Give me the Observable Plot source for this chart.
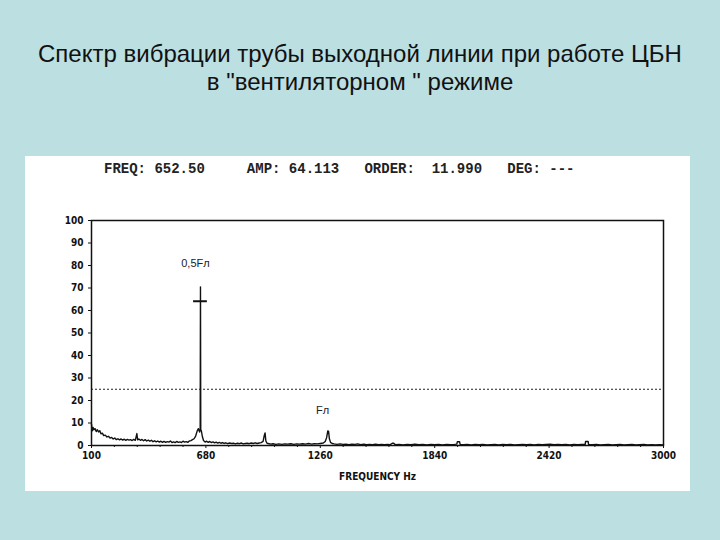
<!DOCTYPE html>
<html><head><meta charset="utf-8">
<script src="https://cdn.jsdelivr.net/npm/d3@7"></script>
<script src="https://cdn.jsdelivr.net/npm/@observablehq/plot@0.6"></script>
<style>
html,body{margin:0;padding:0;width:720px;height:540px;overflow:hidden;background:#bcdfe2;}
#title{position:absolute;left:0;top:40px;width:720px;text-align:center;font-family:"Liberation Sans",Arial,sans-serif;font-size:24px;line-height:28px;color:#111;}
#panel{position:absolute;left:25px;top:156px;width:665px;height:335px;background:#fff;}
#header{position:absolute;left:79px;top:5px;font-family:"Liberation Mono","DejaVu Sans Mono",monospace;font-weight:bold;font-size:14px;line-height:16px;white-space:pre;color:#222;}
#chart{position:absolute;left:0;top:0;}
</style></head><body>
<div id="title">Спектр вибрации трубы выходной линии при работе ЦБН<br>в "вентиляторном " режиме</div>
<div id="panel"><div id="chart"></div><div id="header"></div></div>
<script>
// Header readout
const headerText = "FREQ: 652.50     AMP: 64.113   ORDER:  11.990   DEG: ---";

// Axis ticks
const xTicks = [100, 680, 1260, 1840, 2420, 3000];
const xMinorTicks = [216, 332, 448, 564, 796, 912, 1028, 1144, 1376, 1492, 1608, 1724, 1956, 2072, 2188, 2304, 2536, 2652, 2768, 2884];
const yTicks = [0, 10, 20, 30, 40, 50, 60, 70, 80, 90, 100];

// Spectrum (frequency Hz, amplitude)
const freq = [
  100,104,108,112,118,124,130,136,142,148,
  155,162,170,178,186,194,202,210,218,226,
  234,242,250,258,266,274,282,290,298,306,
  314,322,330,334,340,348,356,364,372,380,
  388,396,404,412,420,428,436,444,452,460,
  468,476,484,492,500,508,516,524,532,540,
  548,556,564,572,580,588,596,604,612,620,
  628,636,642,648,651,652.5,654,657,662,668,
  676,684,692,700,708,716,724,732,740,748,
  756,764,772,780,790,800,810,820,830,840,
  850,860,870,880,890,900,910,920,930,940,
  950,960,970,976,980,984,990,1000,1010,1020,
  1035,1050,1065,1080,1095,1110,1125,1140,1155,1170,
  1185,1200,1215,1230,1245,1260,1275,1285,1292,1298,
  1302,1306,1312,1320,1330,1345,1360,1375,1390,1405,
  1420,1435,1450,1465,1480,1495,1510,1525,1540,1555,
  1570,1585,1600,1615,1625,1632,1640,1660,1680,1700,
  1720,1740,1760,1780,1800,1820,1840,1860,1880,1900,
  1920,1940,1952,1955,1966,1969,1985,2005,2025,2045,
  2065,2085,2105,2125,2145,2165,2185,2205,2225,2245,
  2265,2285,2305,2325,2345,2365,2385,2405,2425,2445,
  2465,2485,2505,2525,2545,2565,2585,2603,2605,2618,
  2620,2640,2660,2680,2700,2720,2740,2760,2780,2800,
  2820,2840,2860,2880,2900,2920,2940,2960,2980,3000
];
const amp = [
  9.5,6.5,8.0,7.0,7.5,6.2,7.0,6.0,6.6,5.2,
  5.5,4.4,4.6,3.8,4.1,3.3,3.6,2.9,3.3,2.6,
  3.0,2.5,2.9,2.4,2.8,2.3,2.7,2.4,2.6,2.2,
  2.7,2.3,5.3,2.5,2.9,2.3,2.7,2.1,2.6,2.0,
  2.4,1.9,2.3,1.7,2.1,1.6,2.0,1.5,1.9,1.4,
  1.8,1.4,1.7,1.5,2.0,1.3,1.6,1.3,1.8,1.4,
  1.6,1.3,1.9,1.5,1.7,1.4,2.0,2.2,2.6,3.0,
  4.2,6.5,7.5,6.0,7.0,70.5,7.0,6.5,4.0,2.2,
  1.5,1.9,1.4,1.8,1.3,1.6,1.2,1.5,1.1,1.4,
  1.0,1.3,0.9,1.2,0.8,1.1,0.9,1.0,0.7,1.0,
  0.8,1.1,0.7,0.9,1.0,0.8,1.1,0.9,1.2,0.9,
  1.1,1.3,1.8,4.5,5.6,2.0,1.0,0.8,0.6,0.8,
  0.5,0.7,0.5,0.7,0.6,0.8,0.5,0.7,0.6,0.8,
  0.6,0.9,0.6,0.8,0.7,0.9,1.1,1.8,3.5,6.5,
  6.3,3.0,1.4,0.9,0.7,0.5,0.7,0.5,0.6,0.4,
  0.6,0.5,0.7,0.4,0.6,0.4,0.5,0.4,0.6,0.4,
  0.5,0.4,0.5,0.4,1.0,1.0,0.4,0.5,0.3,0.5,
  0.4,0.6,0.4,0.5,0.3,0.5,0.4,0.5,0.3,0.5,
  0.4,0.5,0.6,1.7,1.7,0.5,0.4,0.5,0.3,0.5,
  0.4,0.5,0.3,0.4,0.5,0.3,0.5,0.4,0.5,0.3,
  0.4,0.5,0.4,0.5,0.3,0.5,0.4,0.5,0.6,0.4,
  0.5,0.4,0.5,0.3,0.5,0.4,0.5,0.5,1.8,1.8,
  0.5,0.4,0.5,0.3,0.4,0.5,0.3,0.4,0.5,0.3,
  0.4,0.5,0.3,0.4,0.5,0.3,0.4,0.3,0.4,0.3
];

// Cursor / alarm level
const peakFreq = 652.5;
const peakAmp = 64.113;
const cursorHalfWidth = 35;
const alarmLevel = 25;

// Annotations
const annoLabels = ["0,5Fл", "Fл"];
const annoX = [627, 1271];
const annoY = [81, 15.5];

const spectrum = freq.map((f, i) => ({f, a: amp[i]}));
const narrow = '"Liberation Sans Narrow","DejaVu Sans Condensed","Arial Narrow",sans-serif';

document.getElementById("header").textContent = headerText;

const chart = Plot.plot({
  width: 665, height: 335,
  marginLeft: 66, marginRight: 27, marginTop: 64, marginBottom: 46,
  style: {background: "transparent", color: "#111", fontFamily: narrow, overflow: "visible"},
  x: {domain: [100, 3000]},
  y: {domain: [0, 100]},
  marks: [
    Plot.axisY({ticks: yTicks, tickSize: 3, tickPadding: 5, fontWeight: "bold", fontSize: 10, fontFamily: narrow, label: null}),
    Plot.axisX({ticks: xMinorTicks, tickSize: 2, tickFormat: () => "", label: null}),
    Plot.axisX({ticks: xTicks, tickSize: 3, tickPadding: 3, tickFormat: d => String(d), fontWeight: "bold", fontSize: 10, fontFamily: narrow,
      label: "FREQUENCY Hz", labelAnchor: "center", labelOffset: 34, labelArrow: "none"}),
    Plot.ruleY([alarmLevel], {stroke: "#222", strokeWidth: 1, strokeDasharray: "2,2"}),
    Plot.line(spectrum, {x: "f", y: "a", stroke: "#111", strokeWidth: 1.4}),
    Plot.ruleY([peakAmp], {x1: peakFreq - cursorHalfWidth, x2: peakFreq + cursorHalfWidth, stroke: "#111", strokeWidth: 2}),
    Plot.text(annoLabels, {x: (d, i) => annoX[i], y: (d, i) => annoY[i], text: d => d, fontSize: 11, fontFamily: '"Liberation Sans",Arial,sans-serif', fill: "#222"}),
    Plot.frame({stroke: "#111", strokeWidth: 1.5})
  ]
});
document.getElementById("chart").appendChild(chart);
</script>
</body></html>
